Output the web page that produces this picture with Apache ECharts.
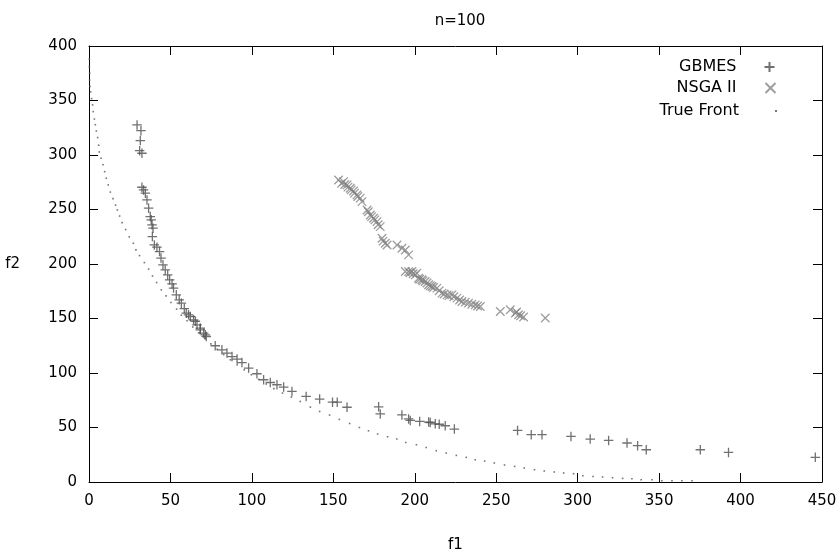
<!DOCTYPE html>
<html>
<head>
<meta charset="utf-8">
<script src="https://cdn.jsdelivr.net/npm/echarts@6/dist/echarts.min.js"></script>
<style>html,body{margin:0;padding:0;background:#fff}#c{width:840px;height:550px}</style>
</head>
<body>
<div id="c"></div>
<script>
const titleText = 'n=100';
const xName = 'f1';
const yName = 'f2';
const xTicks = [0, 50, 100, 150, 200, 250, 300, 350, 400, 450];
const yTicks = [0, 50, 100, 150, 200, 250, 300, 350, 400];

const gbmes = [
  [29.5,327.6],[31.9,322.3],[31.5,313.2],[31.1,304],[32.5,301.6],
  [32.5,270.4],[33.5,268],[34.6,265],[35.6,258.8],[36.6,251.2],[37.6,243.5],[38.2,240.5],[38.7,235.9],[39.3,232.9],[38.9,225.2],
  [40.1,217.5],[41.7,215.4],[43.3,211.4],[44.2,205.4],[45.4,199.2],[46.8,194.6],[48.3,190],[49.5,185.5],[51,181.8],[51.9,177.9],
  [53.6,171.7],[55.4,167.1],[56.7,164.1],[58.5,159.1],[59.7,154.9],[61.1,153.4],[62.2,151.8],[64.2,148.8],[65.3,147.5],[66.3,144.2],
  [68.3,141.2],[68.3,139.6],[70.4,136.6],[71.4,135],[72,133.5],[77.5,125],[81.6,121.3],[84.7,118.3],[87.8,115.1],[90.9,112.8],
  [93.9,109.6],[98,104.5],[103.1,99.3],[107.2,93.8],[111.3,91.3],[115.4,89.2],[119.5,87.1],[124.6,83.1],[133.3,78.5],[141.6,76.1],
  [149.5,73.2],[152.4,73.2],[158.4,68.6],[177.8,69],[178.8,62.5],[192.1,61.5],[196.2,57.9],[197.2,56.5],[203,55.6],[208.5,55],
  [209.5,54.6],[212.6,53.4],[215,53],[218.7,51.6],[224.3,48.6],[263.1,47.3],[271.5,43.4],[278.1,43.4],[295.9,41.8],[307.7,39.4],
  [319,38.1],[330.3,35.8],[336.8,33.3],[342.1,29.6],[375.3,29.6],[392.6,27.1],[445.9,22.6]
];

const nsga = [
  [153.2,277.1],[155,274],[156.3,275.6],[157,273],[158.4,272.6],[159,270.5],[160.4,269.5],[161,268],[162.4,267],[163,265],
  [164.5,263.4],[165,262],[166.5,260.4],[167.6,257.2],[170.7,249.6],[171.5,248],[172.7,245],[173.5,243.5],[174.7,242],[175.5,240.5],
  [176.8,238.9],[177.5,236],[178.8,234.3],[179.9,223.7],[180.5,221],[181.9,219.1],[183,217.5],[189.1,217.5],[192.1,214.5],[194.2,212.9],
  [196.2,208.4],[194.2,193.1],[196.2,193],[197,192],[198.3,193.1],[199,191],[200.3,190],[201.3,191.6],[202.3,187],[203,186],
  [204.4,185.5],[205,184.5],[206.4,183.9],[207.5,182.5],[208.5,180.9],[209.5,180],[210.6,179.3],[211.5,178.5],[213.6,177.9],[215,175.5],
  [216.7,173.3],[218,172.5],[219.8,171.7],[221,171],[222.8,171.7],[224,170],[225.9,168.7],[227.5,167],[229,165.6],[231,165],
  [233,164.1],[235,163],[237.1,162.5],[238.5,161.5],[240.2,161],[252.5,156.4],[258.6,158],[261.7,154.9],[262.5,156],[263.7,153.4],
  [265,152.5],[266.8,151.3],[280.1,150.4]
];

const trueFront = [
  [0.2,387.8],[0.2,381],[0.4,375],[0.4,368.8],[0.6,363],[1,358],[1.6,351.7],[2.2,346],[2.6,339.8],[3.3,333],
  [3.9,327.8],[4.5,322],[5.3,316],[5.9,309],[6.3,302.8],[7.4,297],[8.6,291],[9.6,284.7],[10.6,278.7],[11.8,272.6],
  [13.1,266],[14.7,260],[16.3,254],[17.4,249.6],[18.8,244],[20.3,238],[22.5,231.6],[24.7,224.9],[27.2,219],[28.8,213],
  [31,207.7],[34,201.3],[36.6,195.3],[39,189],[41.5,183],[44.4,176.3],[47.3,170.8],[50.3,164.7],[53.8,158.6],[56.7,153],
  [60.2,148],[63.7,142.2],[67.3,136.9],[71,131.8],[74.8,126.7],[78.7,121.7],[82.7,116.9],[86.8,112.1],[91,107.5],[95.3,102.9],
  [99.7,98.4],[104.2,94.1],[108.8,89.9],[113.5,85.7],[118.8,81.6],[124.2,77.9],[129.7,73.9],[135.9,68.7],[141.6,64.7],[147.7,61.4],
  [153.7,57.4],[160,53.7],[166,50],[171.6,47],[177.2,44],[183.3,41.5],[189,39.4],[194.5,36.3],[201,34.2],[207,31.7],
  [213.2,28.7],[219.3,26.6],[225.5,24.4],[231.6,22.6],[237.1,20.4],[242.9,19.2],[248.8,17.4],[255.1,15.6],[261.3,14.3],[267.2,12.8],
  [273.5,11.3],[279.5,10.1],[285.6,9.2],[291.4,8.3],[297.5,7.6],[303.2,5.8],[309.4,5.1],[315.3,4.6],[321.4,3.9],[327.6,3.3],
  [333.3,3],[339,2.1],[345.6,2.1],[351.7,1.2],[357.9,1.2],[364,1.2],[370.2,1.2]
];

const seriesNames = ['GBMES', 'NSGA II', 'True Front'];

const FONT = 'DejaVu Sans';
const FS = 15;
const PLUS = 'path://M0,5L10,5M5,0L5,10';
const CROSS = 'path://M0,0L10,10M0,10L10,0';

const chart = echarts.init(document.getElementById('c'), null, {renderer: 'canvas'});

function xAxisCfg(pos, showLabels) {
  return {
    type: 'value', position: pos, min: xTicks[0], max: xTicks[xTicks.length - 1],
    interval: xTicks[1] - xTicks[0],
    name: showLabels ? xName : '', nameLocation: 'middle', nameGap: 56,
    nameTextStyle: {color: '#000', fontSize: FS, fontFamily: FONT},
    axisLine: {show: true, onZero: false, lineStyle: {color: '#000', width: 1}},
    axisTick: {show: true, inside: true, length: 9, lineStyle: {color: '#000', width: 1}},
    axisLabel: {show: showLabels, color: '#000', fontSize: FS, fontFamily: FONT, margin: 12},
    splitLine: {show: false}
  };
}
function yAxisCfg(pos, showLabels) {
  return {
    type: 'value', position: pos, min: yTicks[0], max: yTicks[yTicks.length - 1],
    interval: yTicks[1] - yTicks[0],
    name: showLabels ? yName : '', nameLocation: 'middle', nameGap: 69, nameRotate: 0,
    nameTextStyle: {color: '#000', fontSize: FS, fontFamily: FONT},
    axisLine: {show: true, onZero: false, lineStyle: {color: '#000', width: 1}},
    axisTick: {show: true, inside: true, length: 9, lineStyle: {color: '#000', width: 1}},
    axisLabel: {show: showLabels, color: '#000', fontSize: FS, fontFamily: FONT, margin: 12},
    splitLine: {show: false}
  };
}

function legendCfg(name, top, iconSize, right, padRight) {
  return {
    data: [name], orient: 'vertical', align: 'right', padding: 0,
    itemWidth: iconSize, itemHeight: iconSize, right: right, top: top,
    textStyle: {color: '#000', fontSize: 16, fontFamily: FONT, padding: [0, padRight, 0, 0]}
  };
}

chart.setOption({
  animation: false,
  backgroundColor: '#fff',
  title: {
    text: titleText, left: 455, textAlign: 'center', top: 9,
    textStyle: {color: '#000', fontSize: FS, fontWeight: 'normal', fontFamily: FONT}
  },
  grid: {left: 89, right: 18, top: 46, bottom: 68, containLabel: false, outerBoundsMode: 'none'},
  legend: [
    legendCfg(seriesNames[0], 59, 10, 63, 23),
    legendCfg(seriesNames[1], 80, 10, 62, 24),
    legendCfg(seriesNames[2], 103, 2, 63, 31)
  ],
  xAxis: [xAxisCfg('bottom', true), xAxisCfg('top', false)],
  yAxis: [yAxisCfg('left', true), yAxisCfg('right', false)],
  series: [
    {
      name: seriesNames[0], type: 'scatter', data: gbmes, symbol: PLUS, symbolSize: 9.5,
      itemStyle: {color: 'none', borderColor: '#4d4d4d', borderWidth: 1.3}, z: 3
    },
    {
      name: seriesNames[1], type: 'scatter', data: nsga, symbol: CROSS, symbolSize: 8.5,
      itemStyle: {color: 'none', borderColor: '#858585', borderWidth: 1.3}, z: 2
    },
    {
      name: seriesNames[2], type: 'scatter', data: trueFront, symbol: 'rect', symbolSize: 1.6,
      itemStyle: {color: '#555'}, z: 1
    }
  ]
});
</script>
</body>
</html>
